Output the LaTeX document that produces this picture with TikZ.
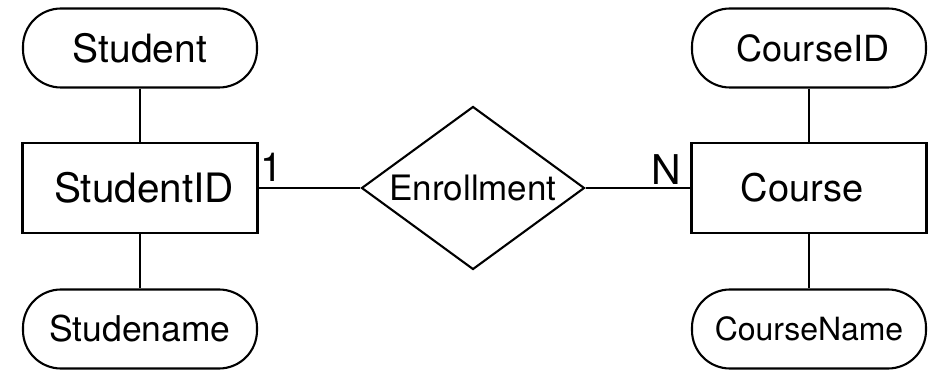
\documentclass[tikz,border=0pt]{standalone}
\usepackage{fontspec}
\setmainfont{TeX Gyre Heros}
\usetikzlibrary{shapes.geometric}
\tikzset{
  attr/.style={draw, line width=2.1pt, rounded corners=38pt, minimum width=234pt, minimum height=79pt, inner sep=0pt},
  entity/.style={draw, line width=2.1pt, minimum width=235pt, minimum height=90pt, inner sep=0pt},
  rel/.style={draw, line width=2.1pt, diamond, aspect=1.37, minimum width=223pt, minimum height=163pt, inner sep=0pt},
  conn/.style={line width=2.1pt},
  card/.style={inner sep=0pt, anchor=base},
}
\newcommand{\fs}[1]{\fontsize{#1pt}{#1pt}\selectfont}
\begin{document}
\begin{tikzpicture}[x=1pt,y=-1pt]
\useasboundingbox (0,0) rectangle (935,374);
\node[attr] (student) at (140,48) {\fs{39}Student};
\node[entity] (sid) at (140,188) {\fs{40.5}StudentID\hspace*{-8pt}};
\node[attr] (sname) at (140,329) {\fs{35.5}Studename};
\node[rel] (enroll) at (473,188) {\fs{35}Enrollment};
\node[entity] (course) at (809,188) {\fs{38}\hspace*{-14pt}Course};
\node[attr] (cid) at (809,48) {\fs{36}CourseID\hspace*{-8pt}};
\node[attr] (cname) at (809,329) {\fs{32}CourseName};
\draw[conn] (student) -- (sid);
\draw[conn] (sid) -- (sname);
\draw[conn] (cid) -- (course);
\draw[conn] (course) -- (cname);
\draw[conn] (sid.east) -- (enroll.west);
\draw[conn] (enroll.east) -- (course.west);
\node[card] (one) at (272,182) {\fs{40}1};
\node[card] (n) at (666,185) {\fs{41}N};
\end{tikzpicture}
\end{document}
